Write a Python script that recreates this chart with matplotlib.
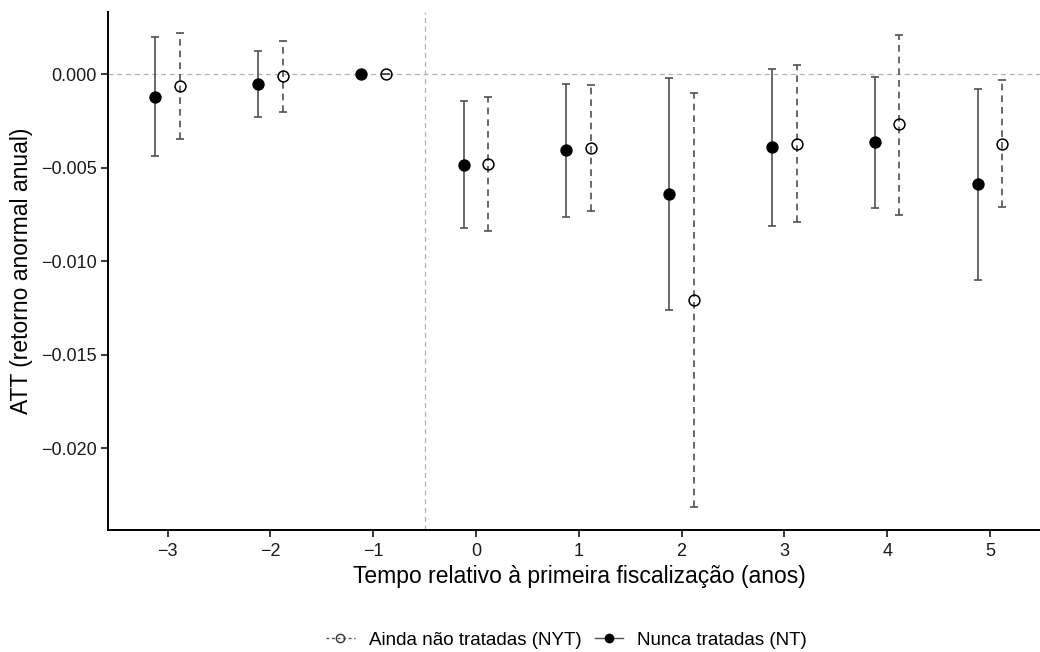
import matplotlib
matplotlib.use("Agg")
import matplotlib.pyplot as plt
from matplotlib.lines import Line2D
import numpy as np

plt.rcParams['font.family'] = ['Liberation Sans', 'DejaVu Sans']

periods = [-3, -2, -1, 0, 1, 2, 3, 4, 5]

# Nunca tratadas (NT)
nt_att = [-0.00120, -0.00053, 0.0, -0.00484, -0.00407, -0.00639, -0.00391, -0.00364, -0.00588]
nt_lo = [-0.00438, -0.00229, 0.0, -0.00823, -0.00764, -0.01259, -0.00810, -0.00716, -0.01098]
nt_hi = [0.00200, 0.00122, 0.0, -0.00145, -0.00050, -0.00021, 0.00029, -0.00013, -0.00079]

# Ainda não tratadas (NYT)
nyt_att = [-0.00063, -0.00011, 0.0, -0.00480, -0.00393, -0.01205, -0.00371, -0.00268, -0.00371]
nyt_lo = [-0.00345, -0.00204, 0.0, -0.00839, -0.00730, -0.02314, -0.00791, -0.00750, -0.00711]
nyt_hi = [0.00223, 0.00179, 0.0, -0.00120, -0.00055, -0.00098, 0.00052, 0.00211, -0.00032]

yticks = [0.0, -0.005, -0.010, -0.015, -0.020]
ytick_labels = ["0.000", "\u22120.005", "\u22120.010", "\u22120.015", "\u22120.020"]
xtick_labels = ["\u22123", "\u22122", "\u22121", "0", "1", "2", "3", "4", "5"]

fig = plt.figure(figsize=(10.4, 6.52), dpi=100)
ax = fig.add_axes([0.1038, 0.187, 0.9054, 0.795])

dodge = 0.12
x = np.array(periods, dtype=float)
err_col = '#505050'

def draw(xs, att, lo, hi, ls, face):
    att = np.array(att); lo = np.array(lo); hi = np.array(hi)
    yerr = np.vstack([att - lo, hi - att])
    eb = ax.errorbar(xs, att, yerr=yerr, fmt='none', ecolor=err_col,
                     elinewidth=1.2, capsize=3, capthick=1.2, zorder=2)
    for lc in eb[2]:
        lc.set_linestyle(ls)
    ax.plot(xs, att, 'o', markersize=7.8, markerfacecolor=face,
            markeredgecolor='black', markeredgewidth=1.1, linestyle='none', zorder=3)

draw(x - dodge, nt_att, nt_lo, nt_hi, '-', 'black')
draw(x + dodge, nyt_att, nyt_lo, nyt_hi, (0, (4, 3)), 'none')

ax.axhline(0, color='#b3b3b3', linestyle=(0, (4, 3)), linewidth=0.9, zorder=1)
ax.axvline(-0.5, color='#b3b3b3', linestyle=(0, (4, 3)), linewidth=0.9, zorder=1)

ax.set_xlim(-3.58, 5.58)
ax.set_ylim(-0.02436, 0.00334)
ax.set_xticks(periods)
ax.set_xticklabels(xtick_labels)
ax.set_yticks(yticks)
ax.set_yticklabels(ytick_labels)
ax.tick_params(axis='both', labelsize=13, colors='black', length=5, width=1.1, labelcolor='#1a1a1a')
ax.tick_params(axis='x', pad=4)
ax.tick_params(axis='y', pad=3)
for s in ['top', 'right']:
    ax.spines[s].set_visible(False)
for s in ['left', 'bottom']:
    ax.spines[s].set_linewidth(1.4)

ax.set_xlabel("Tempo relativo à primeira fiscalização (anos)", fontsize=16.5, va='center')
ax.set_ylabel("ATT (retorno anormal anual)", fontsize=16.5, va='center')
# title centred on the visible plotting panel (figure is cropped on the right)
ax.xaxis.set_label_coords((579 - 108) / 941.6, -0.089)
ax.yaxis.set_label_coords((22 - 108) / 941.6, 0.5)

handles = [
    Line2D([0], [0], color=err_col, linestyle=(0, (2, 2)), linewidth=1.0, marker='o',
           markerfacecolor='none', markeredgecolor='#333333', markersize=6),
    Line2D([0], [0], color=err_col, linestyle='-', linewidth=1.0, marker='o',
           markerfacecolor='black', markeredgecolor='black', markersize=6),
]
fig.legend(handles, ["Ainda não tratadas (NYT)", "Nunca tratadas (NT)"],
           loc='center', bbox_to_anchor=(0.545, 0.018), ncol=2, frameon=False,
           fontsize=13.5, handlelength=1.5, columnspacing=0.75, handletextpad=0.75)

fig.savefig("out.png", dpi=100)
